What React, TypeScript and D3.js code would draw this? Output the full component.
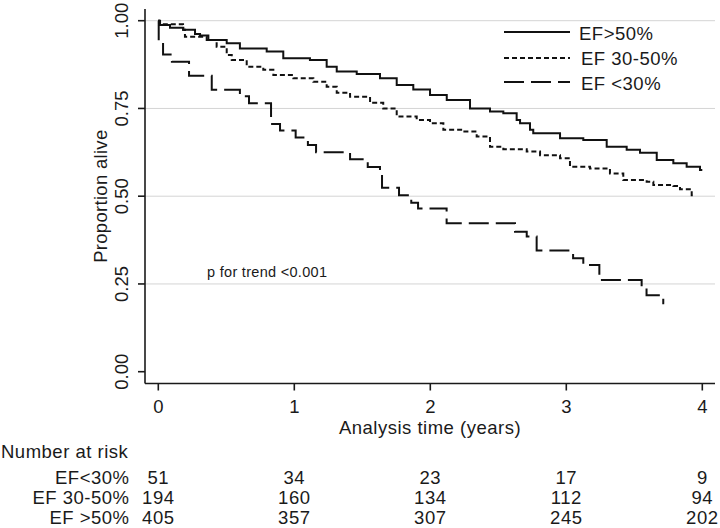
import React from "react";
import * as d3 from "d3";

// ---- data ----
const xTicks = [0, 1, 2, 3, 4];
const yTicks = [0, 0.25, 0.5, 0.75, 1];
const gridTicks = [0.25, 0.5, 0.75, 1];

const seriesNames = ["EF>50%", "EF 30-50%", "EF <30%"];

// EF>50% (solid)
const highT = [0, 0.005, 0.086, 0.184, 0.27, 0.307, 0.368, 0.503, 0.6, 0.797, 0.919, 1.115, 1.238, 1.312, 1.459, 1.63, 1.753, 1.875, 1.998, 2.121, 2.292, 2.439, 2.537, 2.635, 2.66, 2.733, 2.757, 2.954, 3.125, 3.297, 3.444, 3.542, 3.665, 3.787, 3.885, 3.983];
const highS = [1.0, 0.988, 0.98, 0.974, 0.962, 0.958, 0.945, 0.936, 0.921, 0.912, 0.893, 0.888, 0.869, 0.855, 0.848, 0.836, 0.817, 0.804, 0.788, 0.774, 0.75, 0.741, 0.736, 0.717, 0.708, 0.689, 0.679, 0.665, 0.66, 0.641, 0.632, 0.624, 0.603, 0.594, 0.584, 0.575];
const highEnd = 4.0;

// EF 30-50% (short dash)
const midT = [0, 0.013, 0.182, 0.196, 0.356, 0.429, 0.503, 0.54, 0.65, 0.772, 0.846, 0.993, 1.14, 1.238, 1.312, 1.41, 1.557, 1.654, 1.753, 1.9, 1.998, 2.096, 2.243, 2.341, 2.439, 2.537, 2.709, 2.807, 2.954, 3.027, 3.174, 3.321, 3.419, 3.591, 3.64, 3.787, 3.836, 3.922];
const midS = [1.0, 0.99, 0.974, 0.954, 0.945, 0.926, 0.902, 0.888, 0.869, 0.86, 0.845, 0.836, 0.826, 0.812, 0.795, 0.783, 0.766, 0.75, 0.727, 0.717, 0.708, 0.689, 0.684, 0.67, 0.641, 0.634, 0.627, 0.617, 0.608, 0.584, 0.579, 0.565, 0.546, 0.541, 0.532, 0.529, 0.52, 0.503];
const midEnd = 3.93;

// EF <30% (long dash)
const lowT = [0, 0.003, 0.035, 0.1, 0.226, 0.393, 0.6, 0.667, 0.829, 0.895, 1.01, 1.1, 1.16, 1.41, 1.54, 1.63, 1.645, 1.77, 1.86, 1.91, 2.12, 2.623, 2.709, 2.782, 3.05, 3.125, 3.243, 3.554, 3.59, 3.713];
const lowS = [1.0, 0.94, 0.904, 0.883, 0.843, 0.803, 0.785, 0.765, 0.706, 0.687, 0.667, 0.646, 0.625, 0.605, 0.583, 0.563, 0.524, 0.503, 0.481, 0.465, 0.423, 0.399, 0.385, 0.345, 0.323, 0.304, 0.261, 0.238, 0.218, 0.195];
const lowEnd = 3.72;

const riskLabels = ["EF<30%", "EF 30-50%", "EF >50%"];
const riskLow = [51, 34, 23, 17, 9];
const riskMid = [194, 160, 134, 112, 94];
const riskHigh = [405, 357, 307, 245, 202];

const FONT = "'Liberation Sans', Arial, Helvetica, sans-serif";

export default function App() {
  const W = 720, H = 528;
  const x = d3.scaleLinear().domain([0, 4]).range([158.3, 702.3]);
  const y = d3.scaleLinear().domain([0, 1]).range([371.7, 20.7]);
  const axisX = 145, axisY = 383.5, plotRight = 715, plotTop = 9;
  const FS = 18.5;
  const LS = 0.5;

  const line = d3
    .line<[number, number]>()
    .x((d) => x(d[0]))
    .y((d) => y(d[1]))
    .curve(d3.curveStepAfter);

  const mk = (T: number[], S: number[], end: number): [number, number][] => {
    const pts: [number, number][] = T.map((t, i) => [t, S[i]]);
    pts.push([end, S[S.length - 1]]);
    return pts;
  };

  const curves = [
    { pts: mk(highT, highS, highEnd), dash: "none" },
    { pts: mk(midT, midS, midEnd), dash: "5 3" },
    { pts: mk(lowT, lowS, lowEnd), dash: "20 7" },
  ];

  const legendRows = [
    { ly: 32, ty: 39.5, tx: 579 },
    { ly: 58, ty: 64.5, tx: 581 },
    { ly: 82, ty: 90, tx: 581 },
  ];

  const riskRows = [riskLow, riskMid, riskHigh];
  const riskY = [483.5, 503.5, 523.5];

  return (
    <svg
      width={W}
      height={H}
      viewBox={`0 0 ${W} ${H}`}
      style={{ position: "absolute", left: 0, top: 0, background: "#fff", display: "block" }}
      fontFamily={FONT}
    >
      <rect x={0} y={0} width={W} height={H} fill="#fff" />
      {/* gridlines */}
      {gridTicks.map((v) => (
        <line key={"g" + v} x1={axisX} x2={plotRight} y1={y(v)} y2={y(v)} stroke="#d4d4d4" strokeWidth={1} />
      ))}
      {/* axes */}
      <line x1={axisX} x2={axisX} y1={plotTop} y2={axisY} stroke="#1a1a1a" strokeWidth={1.6} />
      <line x1={axisX} x2={plotRight} y1={axisY} y2={axisY} stroke="#1a1a1a" strokeWidth={1.6} />
      {yTicks.map((v) => (
        <g key={"yt" + v}>
          <line x1={axisX - 7} x2={axisX} y1={y(v)} y2={y(v)} stroke="#1a1a1a" strokeWidth={1.6} />
          <text
            transform={`translate(128,${y(v)}) rotate(-90)`}
            textAnchor="middle"
            fontSize={FS}
            fill="#1a1a1a"
          >
            {d3.format(".2f")(v)}
          </text>
        </g>
      ))}
      {xTicks.map((v) => (
        <g key={"xt" + v}>
          <line x1={x(v)} x2={x(v)} y1={axisY} y2={axisY + 7} stroke="#1a1a1a" strokeWidth={1.6} />
          <text x={x(v)} y={413} textAnchor="middle" fontSize={FS} fill="#1a1a1a">
            {v}
          </text>
        </g>
      ))}
      <text transform={`translate(107,${(y(0) + y(1)) / 2}) rotate(-90)`} textAnchor="middle" fontSize={FS} fill="#1a1a1a" letterSpacing={0.3}>
        Proportion alive
      </text>
      <text x={430} y={433.5} textAnchor="middle" fontSize={FS} fill="#1a1a1a" letterSpacing={LS}>
        Analysis time (years)
      </text>

      {/* curves */}
      {curves.map((c, i) => (
        <path
          key={"c" + i}
          d={line(c.pts) || ""}
          fill="none"
          stroke="#111"
          strokeWidth={2}
          strokeDasharray={c.dash}
        />
      ))}

      {/* p text */}
      <text x={207} y={277} fontSize={14.5} fill="#1a1a1a" letterSpacing={0.3}>
        p for trend &lt;0.001
      </text>

      {/* legend */}
      {seriesNames.map((n, i) => (
        <g key={"lg" + i}>
          <line
            x1={504}
            x2={570}
            y1={legendRows[i].ly}
            y2={legendRows[i].ly}
            stroke="#111"
            strokeWidth={2}
            strokeDasharray={curves[i].dash}
          />
          <text x={legendRows[i].tx} y={legendRows[i].ty} fontSize={FS} fill="#1a1a1a" letterSpacing={LS}>
            {n}
          </text>
        </g>
      ))}

      {/* number at risk */}
      <text x={1} y={458} fontSize={FS} fill="#1a1a1a" letterSpacing={LS}>
        Number at risk
      </text>
      {riskRows.map((row, r) => (
        <g key={"r" + r}>
          <text x={129.5} y={riskY[r]} textAnchor="end" fontSize={FS} fill="#1a1a1a" letterSpacing={LS}>
            {riskLabels[r]}
          </text>
          {row.map((v, j) => (
            <text key={j} x={x(xTicks[j])} y={riskY[r]} textAnchor="middle" fontSize={FS} fill="#1a1a1a" letterSpacing={LS}>
              {v}
            </text>
          ))}
        </g>
      ))}
    </svg>
  );
}
